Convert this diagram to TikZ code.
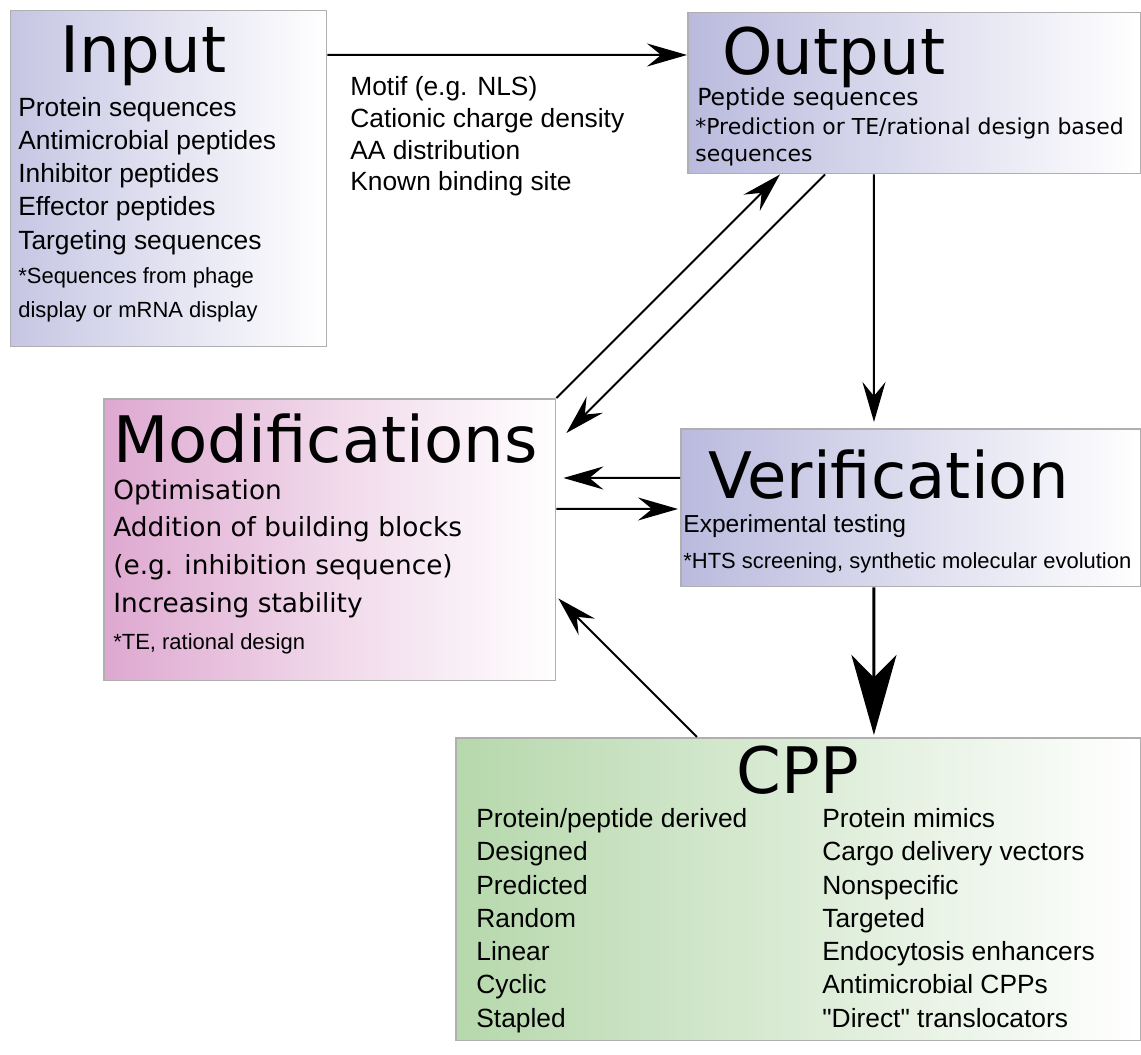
\documentclass[tikz,border=0pt]{standalone}
\usepackage{fontspec}
\setmainfont{Liberation Sans}
\newfontfamily\dejavu{DejaVu Sans}
\usetikzlibrary{arrows.meta}

\definecolor{inblue}{RGB}{198,198,228}
\definecolor{outblue}{RGB}{186,186,222}
\definecolor{modpink}{RGB}{222,168,208}
\definecolor{cppgreen}{RGB}{182,216,172}
\definecolor{boxgray}{RGB}{175,175,175}

\tikzset{
  box/.style={draw=boxgray, line width=0.3mm, rectangle, anchor=north west, inner sep=0pt},
  title/.style={anchor=base west, inner sep=0pt, font=\dejavu\fontsize{36.5}{44}\selectfont},
  body/.style={anchor=base west, inner sep=0pt, align=left, font=\fontsize{15}{18.9}\selectfont},
  small/.style={body, font=\fontsize{12.5}{19.3}\selectfont},
  arr/.style={-{Stealth[length=8mm, width=4.6mm, inset=2.8mm]}, line width=0.4mm},
  bigarr/.style={-{Stealth[length=16mm, width=9mm, inset=4.5mm]}, line width=0.6mm}
}

\begin{document}
\begin{tikzpicture}[x=0.02cm, y=-0.02cm]
    \useasboundingbox (0,0) rectangle (1141,1054);

    % Draw the boxes
    \node[box, left color=inblue, right color=white, minimum width=6.32cm, minimum height=6.72cm] (input) at (10,10) {};
    \node[box, left color=outblue, right color=white, minimum width=9.06cm, minimum height=3.22cm] (output) at (687,12) {};
    \node[box, left color=modpink, right color=white, middle color=modpink!45, minimum width=9.04cm, minimum height=5.64cm] (mods) at (103,398) {};
    \node[box, left color=outblue, right color=white, minimum width=9.2cm, minimum height=3.16cm] (verif) at (680,428) {};
    \node[box, left color=cppgreen, right color=white, minimum width=13.7cm, minimum height=6.06cm] (cpp) at (455,737) {};

    % Titles
    \node[title]              (intitle)    at (60,73)   {Input};
    \node[title]              (outtitle)   at (722,75)  {Output};
    \node[title]              (modtitle)   at (113,462) {Modifications};
    \node[title]              (veriftitle) at (708,498) {Verification};
    \node[title, anchor=base] (cpptitle)   at (798,793) {CPP};

    % Box contents (anchored at the baseline of the last line)
    \node[body]  (inlist) at (18,249) {Protein sequences\\Antimicrobial peptides\\Inhibitor peptides\\Effector peptides\\Targeting sequences};
    \node[small] (innote) at (18,317) {*Sequences from phage\\display or mRNA display};
    \node[body, font=\fontsize{15}{18.1}\selectfont] (criteria) at (350,191) {Motif (e.g. NLS)\\Cationic charge density\\AA distribution\\Known binding site};
    \node[body, font=\dejavu\fontsize{13.4}{16}\selectfont] (outlist) at (697,106) {Peptide sequences};
    \node[body, font=\dejavu\fontsize{12.5}{15.9}\selectfont] (outnote) at (695,162) {*Prediction or TE/rational design based\\sequences};
    \node[body, font=\dejavu\fontsize{15}{21.4}\selectfont] (modlist) at (113,612) {Optimisation\\Addition of building blocks\\(e.g. inhibition sequence)\\Increasing stability};
    \node[small] (modnote) at (113,649) {*TE, rational design};
    \node[body, font=\fontsize{14}{17}\selectfont] (veriflist) at (683,532) {Experimental testing};
    \node[small] (verifnote) at (683,568) {*HTS screening, synthetic molecular evolution};
    \node[body] (cppleft)  at (476,1027) {Protein/peptide derived\\Designed\\Predicted\\Random\\Linear\\Cyclic\\Stapled};
    \node[body] (cppright) at (822,1027) {Protein mimics\\Cargo delivery vectors\\Nonspecific\\Targeted\\Endocytosis enhancers\\Antimicrobial CPPs\\\textquotedbl Direct\textquotedbl{} translocators};

    % Connect the boxes with arrows
    \draw[arr] ([yshift=-0.9cm]input.north east) -- ([yshift=-0.86cm]output.north west);
    \draw[arr] (mods.north east) -- ([xshift=1.86cm]output.south west);
    \draw[arr] ([xshift=2.76cm]output.south west) -- ([xshift=0.2cm, yshift=-0.7cm]mods.north east);
    \draw[arr] ([xshift=3.74cm]output.south west) -- ([xshift=3.88cm, yshift=0.12cm]verif.north west);
    \draw[arr] ([yshift=-1.0cm]verif.north west) -- ([xshift=0.14cm, yshift=-1.6cm]mods.north east);
    \draw[arr] ([yshift=-2.22cm]mods.north east) -- ([xshift=-0.04cm, yshift=-1.62cm]verif.north west);
    \draw[bigarr] ([xshift=3.88cm]verif.south west) -- ([xshift=8.38cm, yshift=0.04cm]cpp.north west);
    \draw[arr] ([xshift=4.84cm]cpp.north west) -- ([xshift=0.04cm, yshift=1.66cm]mods.south east);
\end{tikzpicture}
\end{document}
